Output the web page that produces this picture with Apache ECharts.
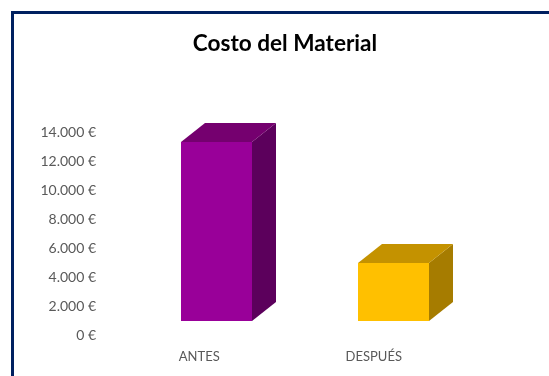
<!DOCTYPE html>
<html>
<head>
<meta charset="utf-8">
<style>
  html, body { margin: 0; padding: 0; background: #ffffff; overflow: hidden; }
  #chart { width: 549px; height: 376px; }
</style>
<script src="https://cdn.jsdelivr.net/npm/echarts@6/dist/echarts.min.js"></script>
</head>
<body>
<div id="chart"></div>
<script>
const categories = ['ANTES', 'DESPUÉS'];
const costs = [12350, 4000];
const yTicks = { min: 0, max: 14000, interval: 2000 };
const frontColors = ['#990099', '#ffc000'];
const topColors = ['#75006f', '#c49200'];
const sideColors = ['#5c005c', '#a67c00'];

// Oblique projection of the boxes: receding edges run up and to the right,
// and the floor of the front plane sits above the labelled zero line.
const depthX = 24;
const depthY = 19;
const floorLift = 14;
const shiftX = 17.5;
const barRatio = 0.403;

function drawBox(params, api) {
  const i = api.value(0);
  const base = api.coord([i, 0]);
  const head = api.coord([i, api.value(1)]);
  const w = api.size([1, 0])[0] * barRatio;
  const x0 = Math.round(base[0] + shiftX - w / 2);
  const x1 = Math.round(x0 + w);
  const y0 = Math.round(base[1] - floorLift);
  const y1 = Math.round(head[1] - floorLift);
  const poly = (points, fill) => ({
    type: 'polygon',
    shape: { points },
    style: { fill, stroke: null }
  });
  return {
    type: 'group',
    children: [
      poly([[x1, y0], [x1 + depthX, y0 - depthY], [x1 + depthX, y1 - depthY], [x1, y1]], sideColors[i]),
      poly([[x0, y1], [x0 + depthX, y1 - depthY], [x1 + depthX, y1 - depthY], [x1, y1]], topColors[i]),
      poly([[x0, y0], [x1, y0], [x1, y1], [x0, y1]], frontColors[i])
    ]
  };
}

const chart = echarts.init(document.getElementById('chart'), null, { renderer: 'canvas' });
chart.setOption({
  animation: false,
  backgroundColor: '#ffffff',
  title: {
    text: 'Costo del Material',
    left: 280,
    top: 27,
    textAlign: 'center',
    textStyle: { fontFamily: 'Lato', fontWeight: 'bold', fontSize: 22.6, color: '#000000' }
  },
  grid: { left: 111, right: 85, top: 132, bottom: 41 },
  xAxis: {
    type: 'category',
    data: [categories[0], { value: categories[1], textStyle: { padding: [0, 4, 0, 0] } }],
    axisLine: { show: false },
    axisTick: { show: false },
    axisLabel: { color: '#595959', fontFamily: 'Lato', fontSize: 13, margin: 15 }
  },
  yAxis: {
    type: 'value',
    min: yTicks.min,
    max: yTicks.max,
    interval: yTicks.interval,
    axisLine: { show: false },
    axisTick: { show: false },
    splitLine: { show: false },
    axisLabel: {
      color: '#595959',
      fontFamily: 'Lato',
      fontSize: 14,
      margin: 15,
      formatter: v => v.toLocaleString('de-DE') + ' €'
    }
  },
  series: [{
    type: 'custom',
    renderItem: drawBox,
    encode: { x: 0, y: 1 },
    data: costs.map((v, i) => [i, v])
  }],
  graphic: [{
    type: 'rect',
    silent: true,
    shape: { x: 12.5, y: 12.5, width: 600, height: 500 },
    style: { fill: 'transparent', stroke: '#002060', lineWidth: 3 }
  }]
});
</script>
</body>
</html>
